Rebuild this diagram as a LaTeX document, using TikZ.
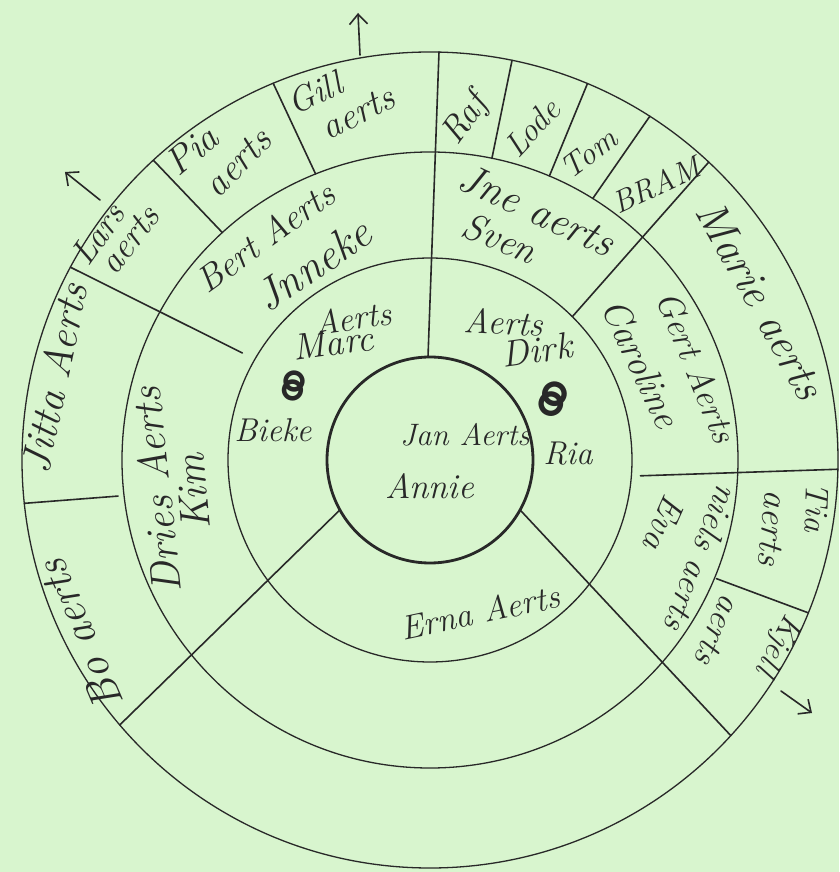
\documentclass[tikz,border=0pt]{standalone}
\usepackage{fontspec}
\usepackage{graphicx}
\usetikzlibrary{arrows.meta}
\newfontfamily\symfont{DejaVu Sans}
\definecolor{paper}{RGB}{216,245,206}
\definecolor{ink}{RGB}{40,40,40}
\tikzset{
  ring/.style={draw=ink, line width=1.3pt},
  hub/.style={draw=ink, line width=2.8pt},
  divider/.style={draw=ink, line width=1.6pt, line cap=round},
  pointer/.style={draw=ink, line width=1.6pt, line cap=round, -{Straight Barb[length=10pt,width=18pt]}},
  lbl/.style={inner sep=0pt, text=ink, font=\itshape\fontsize{#1}{#1}\selectfont},
  lbl/.default=34,
  wed/.style={inner sep=0pt, text=ink, font=\symfont\fontsize{#1}{#1}\selectfont},
}
\begin{document}
\begin{tikzpicture}[x=1pt,y=1pt]
\fill[paper] (-430,-412) rectangle (409,460);
\useasboundingbox (-430,-412) rectangle (409,460);
\coordinate (O) at (0,0);
% rings
\draw[ring] (O) circle[radius=408pt];
\draw[ring] (O) circle[radius=308pt];
\draw[ring] (O) circle[radius=202pt];
\draw[hub] (O) circle[radius=103pt];
% divider end points
\coordinate (d1a) at (-2,103);      \coordinate (d1b) at (9,408);
\coordinate (d2a) at (209:103);     \coordinate (d2b) at (220.5:408);
\coordinate (d3a) at (-29:103);     \coordinate (d3b) at (-42.5:408);
\coordinate (d4a) at (150.3:216);   \coordinate (d4b) at (151.8:408);
\coordinate (d5a) at (45.2:202);    \coordinate (d5b) at (46.9:408);
\coordinate (d6a) at (-4.3:211);    \coordinate (d6b) at (-1.3:408);
\coordinate (d7a) at (186.6:314);   \coordinate (d7b) at (186.1:408);
\coordinate (d8a) at (132.4:308);   \coordinate (d8b) at (132.7:408);
\coordinate (d9a) at (111.8:308);   \coordinate (d9b) at (112.6:408);
\coordinate (d10a) at (78.4:308);   \coordinate (d10b) at (78.4:408);
\coordinate (d11a) at (67.2:308);   \coordinate (d11b) at (67.3:408);
\coordinate (d12a) at (58.1:308);   \coordinate (d12b) at (57.4:408);
\coordinate (d13a) at (-22.5:310);  \coordinate (d13b) at (-22:408);
\foreach \i in {1,...,13} {\draw[divider] (d\i a) -- (d\i b);}
% arrows
\coordinate (a1t) at (-70,405);   \coordinate (a1h) at (-72,447);
\coordinate (a2t) at (-330,260);  \coordinate (a2h) at (-365,288);
\coordinate (a3t) at (351,-231);  \coordinate (a3h) at (382,-253);
\draw[pointer] (a1t) -- (a1h);
\draw[pointer] (a2t) -- (a2h);
\draw[pointer] (a3t) -- (a3h);
% centre
\node[lbl=31] (jan) at (35,25) {Jan Aerts};
\node[lbl=35] (annie) at (0,-26) {Annie};
% ring 1
\node[lbl=34, rotate=8] (marcA) at (-77,142) {Aerts};
\node[lbl=37, rotate=8] (marc) at (-97,117) {Marc};
\node[wed=62, rotate=80] (wedm) at (-130,73) {⚭};
\node[lbl=33] (bieke) at (-157,30) {Bieke};
\node[lbl=35, rotate=-3] (dirkA) at (74,138) {Aerts};
\node[lbl=37, rotate=8] (dirk) at (107,110) {Dirk};
\node[wed=72, rotate=70] (wedd) at (130,58) {⚭};
\node[lbl=33] (ria) at (138,6) {Ria};
\node[lbl=34, rotate=12] (erna) at (50,-152) {Erna Aerts};
% ring 2
\node[lbl=36, rotate=36] (bert) at (-165,223) {Bert Aerts};
\node[lbl=44, rotate=34] (inneke) at (-117,195) {Jnneke};
\node[lbl=42, rotate=-25] (ine) at (107,250) {Jne aerts};
\node[lbl=38, rotate=-22] (sven) at (70,222) {Sven};
\node[lbl=35, rotate=-68] (gert) at (267,93) {Gert Aerts};
\node[lbl=38, rotate=-65] (caroline) at (211,97) {Caroline};
\node[lbl=35, rotate=-111] (niels) at (272,-98) {niels aerts};
\node[lbl=35, rotate=-114] (eva) at (235,-63) {Eva};
\node[lbl=42, rotate=96] (dries) at (-274,-30) {Dries Aerts};
\node[lbl=42, rotate=95] (kim) at (-237,-32) {Kim};
% ring 3
\node[lbl=42, rotate=78] (jitta) at (-376,82) {Jitta Aerts};
\node[lbl=44, rotate=113] (bo) at (-350,-175) {Bo aerts};
\node[lbl=35, rotate=55] (lars) at (-332,226) {Lars};
\node[lbl=36, rotate=52] (larsA) at (-300,220) {aerts};
\node[lbl=38, rotate=40] (pia) at (-238,310) {Pia};
\node[lbl=38, rotate=46] (piaA) at (-192,297) {aerts};
\node[lbl=35, rotate=25] (gill) at (-115,367) {Gill};
\node[lbl=37, rotate=27] (gillA) at (-72,347) {aerts};
\node[lbl=36, rotate=54] (raf) at (36,340) {Raf};
\node[lbl=33, rotate=47] (lode) at (102,332) {Lode};
\node[lbl=32, rotate=37] (tom) at (159,307) {Tom};
\node[lbl=31, rotate=25] (bram) at (226,275) {BRAM};
\node[lbl=44, rotate=-61] (marie) at (331,160) {Marie aerts};
\node[lbl=33, rotate=-92] (tia) at (387,-48) {Tia};
\node[lbl=36, rotate=-95] (tiaA) at (343,-68) {aerts};
\node[lbl=32, rotate=-118] (kjell) at (348,-185) {Kjell};
\node[lbl=35, rotate=-113] (kjellA) at (288,-170) {aerts};
\end{tikzpicture}
\end{document}
